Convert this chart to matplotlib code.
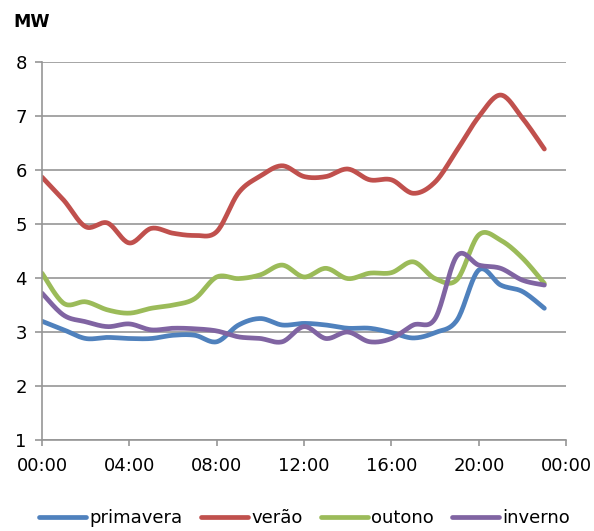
import numpy as np
import matplotlib.pyplot as plt

hours = list(range(24))
primavera = [3.20, 3.04, 2.88, 2.90, 2.88, 2.88, 2.94, 2.94, 2.82, 3.13, 3.25, 3.13,
             3.16, 3.13, 3.07, 3.07, 2.99, 2.89, 2.99, 3.22, 4.15, 3.87, 3.75, 3.44]
verao = [5.87, 5.44, 4.95, 5.02, 4.65, 4.92, 4.83, 4.79, 4.86, 5.58, 5.89, 6.08,
         5.88, 5.88, 6.02, 5.82, 5.82, 5.57, 5.78, 6.37, 6.99, 7.39, 6.96, 6.39]
outono = [4.09, 3.53, 3.56, 3.41, 3.35, 3.44, 3.50, 3.62, 4.02, 3.99, 4.06, 4.24,
          4.02, 4.18, 3.99, 4.09, 4.10, 4.30, 3.99, 3.97, 4.80, 4.70, 4.37, 3.90]
inverno = [3.72, 3.31, 3.19, 3.10, 3.15, 3.04, 3.07, 3.06, 3.02, 2.91, 2.88, 2.82,
           3.10, 2.88, 3.00, 2.82, 2.88, 3.13, 3.25, 4.41, 4.24, 4.18, 3.96, 3.87]

names = ['primavera', 'verão', 'outono', 'inverno']
colors = ['#4F81BD', '#C0504D', '#9BBB59', '#8064A2']
xticks = [0, 4, 8, 12, 16, 20, 24]
xlabels = ['00:00', '04:00', '08:00', '12:00', '16:00', '20:00', '00:00']


def smooth(x, y, n=20):
    # catmull-rom through every point, like excel's smoothed line
    p = np.column_stack([x, y]).astype(float)
    p = np.vstack([p[0], p, p[-1]])
    out = []
    t = np.linspace(0, 1, n, endpoint=False)[:, None]
    for i in range(1, len(p) - 2):
        p0, p1, p2, p3 = p[i - 1], p[i], p[i + 1], p[i + 2]
        c1 = p1 + (p2 - p0) / 6
        c2 = p2 - (p3 - p1) / 6
        seg = ((1 - t) ** 3) * p1 + 3 * ((1 - t) ** 2) * t * c1 + 3 * (1 - t) * t ** 2 * c2 + t ** 3 * p2
        out.append(seg)
    out.append(p[-2][None, :])
    out = np.vstack(out)
    return out[:, 0], out[:, 1]


fig = plt.figure(figsize=(5.94, 5.31), dpi=100)
ax = fig.add_axes([0.0707, 0.1714, 0.8825, 0.7116])

for data, name, c in zip([primavera, verao, outono, inverno], names, colors):
    sx, sy = smooth(hours, data)
    ax.plot(sx, sy, color=c, lw=3.4, label=name, solid_capstyle='round')

ax.set_xlim(0, 24)
ax.set_ylim(1, 8)
ax.set_xticks(xticks)
ax.set_xticklabels(xlabels)
ax.set_yticks(range(1, 9))
ax.yaxis.grid(True, color='#969696', lw=1.2)
ax.set_axisbelow(True)
for s in ['top', 'right']:
    ax.spines[s].set_visible(False)
for s in ['left', 'bottom']:
    ax.spines[s].set_color('#969696')
    ax.spines[s].set_linewidth(1.2)
ax.tick_params(axis='y', length=5, width=1.2, color='#969696', pad=6, labelsize=13)
ax.tick_params(axis='x', length=4, width=1.2, color='#969696', pad=8, labelsize=13)

fig.text(0.022, 0.958, 'MW', fontsize=12.5, fontweight='bold', va='center', ha='left')

fig.legend(loc='center', bbox_to_anchor=(0.513, 0.024), ncol=4, frameon=False,
           fontsize=13, handlelength=2.6, handletextpad=0.2, columnspacing=1.0)

fig.savefig('out.png', dpi=100)
